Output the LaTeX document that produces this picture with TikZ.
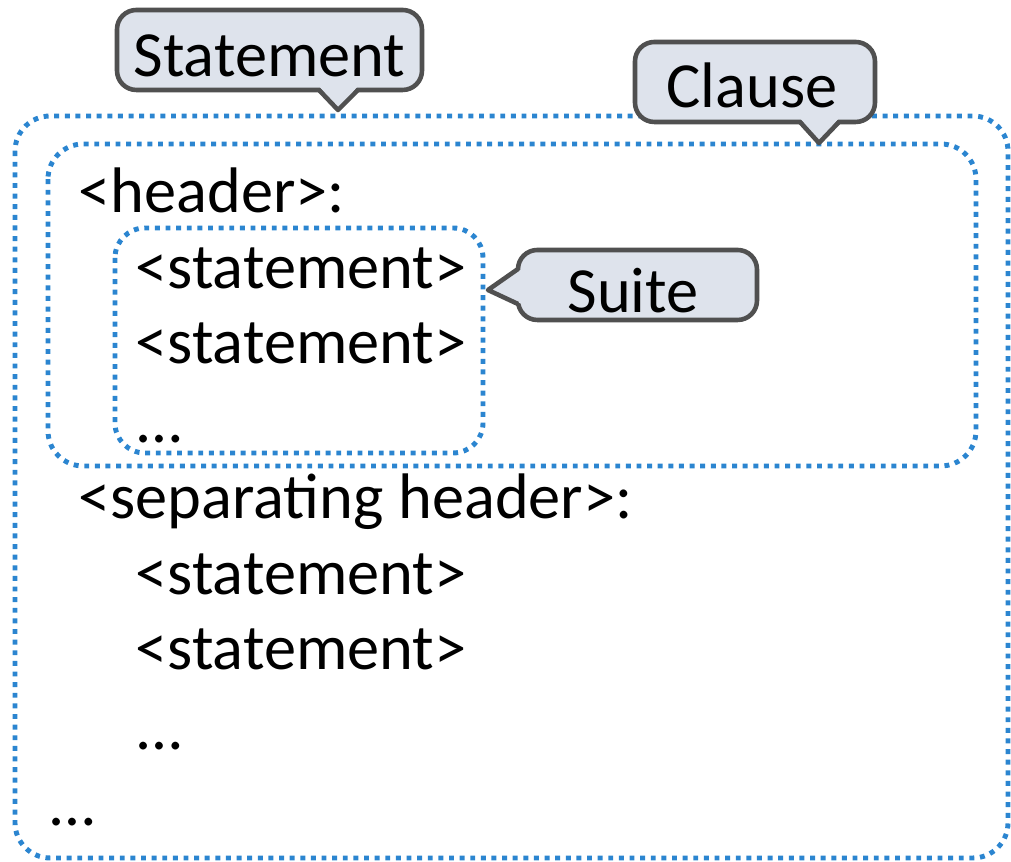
\documentclass[tikz,border=0pt]{standalone}
\usepackage{fontspec}
\setmainfont{Carlito}
\definecolor{dotblue}{RGB}{43,133,208}
\definecolor{bubblefill}{RGB}{222,227,236}
\definecolor{bubbleline}{RGB}{80,80,80}
\newcommand{\codesize}{\fontsize{18.3pt}{21pt}\selectfont}
\tikzset{
  dotbox/.style={draw=dotblue, line width=1.4pt, dash pattern=on 1.4pt off 1.62pt},
  codeline/.style={anchor=base west, inner sep=0pt, font=\codesize},
  bubbleshape/.style={draw=bubbleline, fill=bubblefill, line width=1.3pt, rounded corners=5.5pt},
  bubbletip/.style={draw=bubbleline, line width=1.3pt, line join=round},
  bubbletext/.style={anchor=base, inner sep=0pt, font=\codesize}
}
\begin{document}
\begin{tikzpicture}[x=0.01cm, y=-0.01cm]
                \useasboundingbox (0,0) rectangle (1011,862);
                % dotted boxes: statement, clause, suite
                \draw [dotbox, rounded corners=10pt] (15,116) rectangle (1008,858);
                \draw [dotbox, rounded corners=10pt] (48,144) rectangle (976,466);
                \draw [dotbox, rounded corners=8.5pt] (115,228) rectangle (483,453);
                % lines of the compound statement
                \node [codeline] (head) at (78,213) {<header>:};
                \node [codeline] (stmta) at (135,289) {<statement>};
                \node [codeline] (stmtb) at (135,364) {<statement>};
                \node [codeline] (dotsa) at (137,443) {…};
                \node [codeline] (sephead) at (78,519) {<separating header>:};
                \node [codeline] (stmtc) at (135,595) {<statement>};
                \node [codeline] (stmtd) at (135,670) {<statement>};
                \node [codeline] (dotsb) at (137,750) {…};
                \node [codeline] (dotsc) at (50,826) {…};
                % callouts
                \coordinate (statementtip) at (338,110);
                \coordinate (clausetip) at (819,143);
                \coordinate (suitetip) at (488,290);
                \draw [bubbleshape] (117,10) rectangle (422,90);
                \fill [bubblefill] (319,86) -- (statementtip) -- (358,86) -- cycle;
                \draw [bubbletip] (319,90) -- (statementtip) -- (358,90);
                \draw [bubbleshape] (635,42) rectangle (875,122);
                \fill [bubblefill] (800,118) -- (clausetip) -- (839,118) -- cycle;
                \draw [bubbletip] (800,122) -- (clausetip) -- (839,122);
                \draw [bubbleshape] (518,250) rectangle (757,320);
                \fill [bubblefill] (522,269) -- (suitetip) -- (522,304) -- cycle;
                \draw [bubbletip] (518,269) -- (suitetip) -- (518,304);
                \node [bubbletext] (statement) at (269.5,77) {Statement};
                \node [bubbletext] (clause) at (752,108) {Clause};
                \node [bubbletext] (suite) at (633,313) {Suite};
\end{tikzpicture}
\end{document}
